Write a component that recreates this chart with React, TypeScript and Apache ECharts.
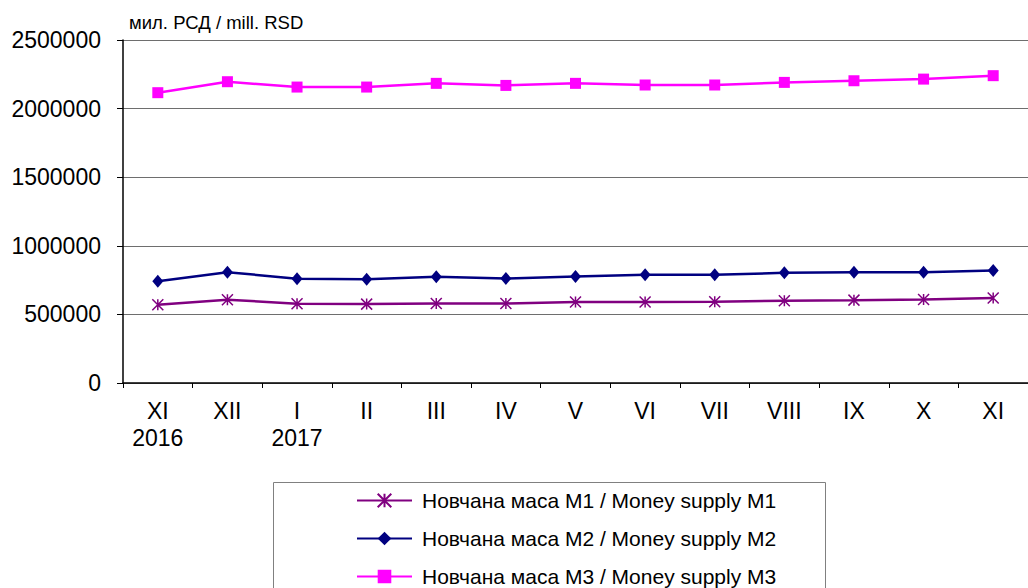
import React, { useEffect, useRef } from "react";
import * as echarts from "echarts";

const months = ["XI\n2016", "XII", "I\n2017", "II", "III", "IV", "V", "VI", "VII", "VIII", "IX", "X", "XI"];
const m1 = [570000, 607000, 578000, 575000, 580000, 580000, 590000, 590000, 592000, 600000, 604000, 609000, 619000];
const m2 = [742000, 808000, 760000, 757000, 774000, 762000, 777000, 789000, 789000, 803000, 808000, 808000, 820000];
const m3 = [2116000, 2196000, 2157000, 2157000, 2184000, 2169000, 2184000, 2172000, 2172000, 2191000, 2203000, 2215000, 2240000];
const seriesNames = [
  "Новчана маса M1 / Money supply M1",
  "Новчана маса M2 / Money supply M2",
  "Новчана маса M3 / Money supply M3",
];
const unitLabel = "мил. РСД / mill. RSD";

const FONT = "'Liberation Sans', Arial, sans-serif";
const ASTERISK = "path://M0,0L10,10M10,0L0,10M5,0L5,10";

export default function App() {
  const ref = useRef<HTMLDivElement>(null);
  useEffect(() => {
    document.body.style.margin = "0";
    const chart = echarts.init(ref.current!, null, { renderer: "svg" });
    chart.setOption({
      animation: false,
      backgroundColor: "#ffffff",
      grid: { left: 123, top: 40, width: 915, height: 343, containLabel: false },
      graphic: [
        {
          type: "text",
          left: 129,
          top: 13,
          style: { text: unitLabel, font: `18.5px ${FONT}`, fill: "#000" },
        },
        {
          type: "rect",
          shape: { x: 273.5, y: 482.5, width: 552, height: 140 },
          style: { fill: "none", stroke: "#808080", lineWidth: 1 },
          z: -1,
        },
      ],
      legend: {
        orient: "vertical",
        left: 351,
        top: 485,
        height: 140,
        itemWidth: 55,
        itemHeight: 17,
        itemGap: 17,
        textStyle: { fontFamily: FONT, fontSize: 21, color: "#000", lineHeight: 21, padding: [0, 0, 0, 5] },
        data: seriesNames,
      },
      xAxis: {
        type: "category",
        data: months,
        boundaryGap: true,
        axisLine: { lineStyle: { color: "#000", width: 1.5 } },
        axisTick: { show: true, length: 5, lineStyle: { color: "#000" } },
        axisLabel: {
          color: "#000",
          fontFamily: FONT,
          fontSize: 23,
          lineHeight: 27,
          margin: 14.5,
          interval: 0,
        },
        splitLine: { show: false },
      },
      yAxis: {
        type: "value",
        min: 0,
        max: 2500000,
        interval: 500000,
        axisLine: { show: true, lineStyle: { color: "#000", width: 1.5 } },
        axisTick: { show: true, length: 6, lineStyle: { color: "#000" } },
        axisLabel: {
          color: "#000",
          fontFamily: FONT,
          fontSize: 23,
          margin: 22,
          formatter: (v: number) => String(v),
        },
        splitLine: { show: true, lineStyle: { color: "#6e6e6e", width: 1 } },
      },
      series: [
        {
          name: seriesNames[0],
          type: "line",
          data: m1,
          color: "#800080",
          lineStyle: { width: 2.5, color: "#800080" },
          symbol: ASTERISK,
          symbolSize: 11,
          itemStyle: { color: "#800080", borderColor: "#800080", borderWidth: 1.5 },
        },
        {
          name: seriesNames[1],
          type: "line",
          data: m2,
          color: "#000080",
          lineStyle: { width: 2.5, color: "#000080" },
          symbol: "diamond",
          symbolSize: [11, 13],
          itemStyle: { color: "#000080" },
        },
        {
          name: seriesNames[2],
          type: "line",
          data: m3,
          color: "#FF00FF",
          lineStyle: { width: 2.5, color: "#FF00FF" },
          symbol: "rect",
          symbolSize: 11,
          itemStyle: { color: "#FF00FF" },
        },
      ],
    });
    return () => chart.dispose();
  }, []);
  return <div ref={ref} style={{ position: "fixed", left: 0, top: 0, width: 1028, height: 588 }} />;
}
